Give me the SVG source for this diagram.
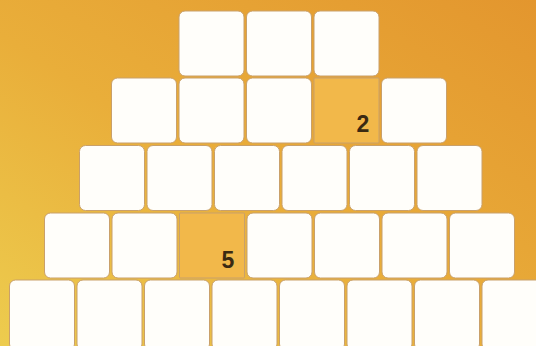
<svg xmlns="http://www.w3.org/2000/svg" width="536" height="346" viewBox="0 0 536 346">
<defs>
<linearGradient id="bg" x1="0" y1="1" x2="1" y2="0">
<stop offset="0" stop-color="#edcc4e"/>
<stop offset="0.45" stop-color="#e9ae3a"/>
<stop offset="1" stop-color="#e3962e"/>
</linearGradient>
<style>
.w{fill:#fffefa;stroke:#c9a06a;stroke-width:1}
.o{fill:#f2b84a;stroke:#c9a06a;stroke-width:1}
.n{font-family:"Liberation Sans",Arial,sans-serif;font-weight:bold;font-size:23px;fill:#3b2a12;text-anchor:middle}
</style>
</defs>
<rect width="536" height="346" fill="url(#bg)"/>
<g id="row1">
<g id="r1c1"><rect class="w" x="179" y="11" width="65" height="65" rx="6"/></g>
<g id="r1c2"><rect class="w" x="246.5" y="11" width="65" height="65" rx="6"/></g>
<g id="r1c3"><rect class="w" x="314" y="11" width="65" height="65" rx="6"/></g>
</g>
<g id="row2">
<g id="r2c1"><rect class="w" x="111.5" y="78" width="65" height="65" rx="6"/></g>
<g id="r2c2"><rect class="w" x="179" y="78" width="65" height="65" rx="6"/></g>
<g id="r2c3"><rect class="w" x="246.5" y="78" width="65" height="65" rx="6"/></g>
<g id="r2c4"><rect class="o" x="314" y="78" width="65" height="65" rx="1"/><text class="n" x="363" y="132">2</text></g>
<g id="r2c5"><rect class="w" x="381.5" y="78" width="65" height="65" rx="6"/></g>
</g>
<g id="row3">
<g id="r3c1"><rect class="w" x="79.5" y="145.5" width="65" height="65" rx="6"/></g>
<g id="r3c2"><rect class="w" x="147" y="145.5" width="65" height="65" rx="6"/></g>
<g id="r3c3"><rect class="w" x="214.5" y="145.5" width="65" height="65" rx="6"/></g>
<g id="r3c4"><rect class="w" x="282" y="145.5" width="65" height="65" rx="6"/></g>
<g id="r3c5"><rect class="w" x="349.5" y="145.5" width="65" height="65" rx="6"/></g>
<g id="r3c6"><rect class="w" x="417" y="145.5" width="65" height="65" rx="6"/></g>
</g>
<g id="row4">
<g id="r4c1"><rect class="w" x="44.5" y="213" width="65" height="65" rx="6"/></g>
<g id="r4c2"><rect class="w" x="112" y="213" width="65" height="65" rx="6"/></g>
<g id="r4c3"><rect class="o" x="179.5" y="213" width="65" height="65" rx="1"/><text class="n" x="228" y="268">5</text></g>
<g id="r4c4"><rect class="w" x="247" y="213" width="65" height="65" rx="6"/></g>
<g id="r4c5"><rect class="w" x="314.5" y="213" width="65" height="65" rx="6"/></g>
<g id="r4c6"><rect class="w" x="382" y="213" width="65" height="65" rx="6"/></g>
<g id="r4c7"><rect class="w" x="449.5" y="213" width="65" height="65" rx="6"/></g>
</g>
<g id="row5">
<g id="r5c1"><rect class="w" x="9.5" y="280" width="65" height="70" rx="6"/></g>
<g id="r5c2"><rect class="w" x="77" y="280" width="65" height="70" rx="6"/></g>
<g id="r5c3"><rect class="w" x="144.5" y="280" width="65" height="70" rx="6"/></g>
<g id="r5c4"><rect class="w" x="212" y="280" width="65" height="70" rx="6"/></g>
<g id="r5c5"><rect class="w" x="279.5" y="280" width="65" height="70" rx="6"/></g>
<g id="r5c6"><rect class="w" x="347" y="280" width="65" height="70" rx="6"/></g>
<g id="r5c7"><rect class="w" x="414.5" y="280" width="65" height="70" rx="6"/></g>
<g id="r5c8"><rect class="w" x="482" y="280" width="65" height="70" rx="6"/></g>
</g>
<g id="connectors"/>
</svg>
